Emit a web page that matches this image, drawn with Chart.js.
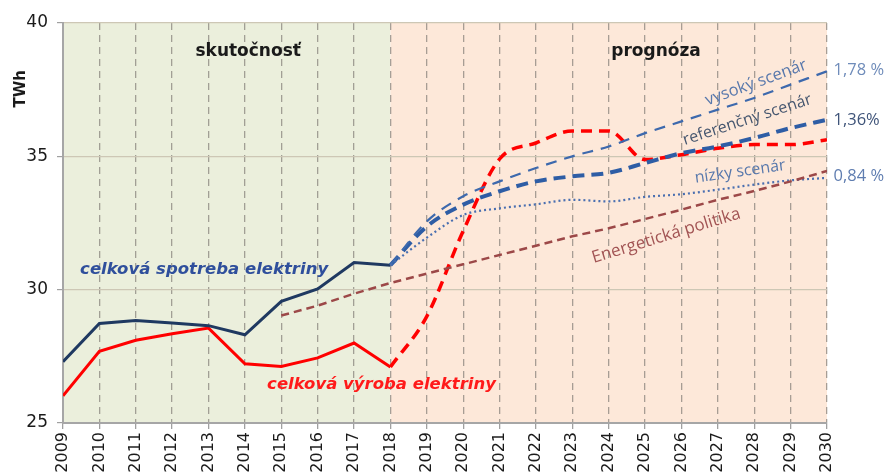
<!DOCTYPE html>
<html>
<head>
<meta charset="utf-8">
<script src="https://cdn.jsdelivr.net/npm/chart.js@4.4.1/dist/chart.umd.min.js"></script>
<style>
html,body{margin:0;padding:0;background:#fff;}
#wrap{width:886px;height:475px;position:relative;}
</style>
</head>
<body>
<div id="wrap"><canvas id="c" width="886" height="475"></canvas></div>
<script>
// ---- data ----
const years = [2009,2010,2011,2012,2013,2014,2015,2016,2017,2018,2019,2020,2021,2022,2023,2024,2025,2026,2027,2028,2029,2030];
const actualYears = [2009,2010,2011,2012,2013,2014,2015,2016,2017,2018];
const forecastYears = [2018,2019,2020,2021,2022,2023,2024,2025,2026,2027,2028,2029,2030];
const policyYears = [2015,2016,2017,2018,2019,2020,2021,2022,2023,2024,2025,2026,2027,2028,2029,2030];

const consumption = [27.30, 28.73, 28.84, 28.75, 28.65, 28.31, 29.56, 30.03, 31.02, 30.92];
const production  = [26.02, 27.69, 28.10, 28.35, 28.56, 27.22, 27.12, 27.44, 28.00, 27.10];
const productionForecast = [27.10, 29.00, 32.20, 34.90, 35.50, 35.95, 35.95, 34.88, 35.06, 35.30, 35.44, 35.44, 35.62];
const highScenario = [30.92, 32.56, 33.50, 34.06, 34.56, 35.00, 35.37, 35.87, 36.31, 36.75, 37.19, 37.69, 38.19];
const refScenario  = [30.92, 32.37, 33.19, 33.69, 34.06, 34.25, 34.38, 34.75, 35.12, 35.37, 35.69, 36.06, 36.37];
const lowScenario  = [30.92, 31.95, 32.80, 33.05, 33.20, 33.37, 33.31, 33.48, 33.58, 33.75, 33.94, 34.10, 34.19];
const energyPolicy = [29.03, 29.40, 29.85, 30.25, 30.60, 30.95, 31.30, 31.65, 32.00, 32.30, 32.65, 33.00, 33.37, 33.70, 34.06, 34.45];

const yTicks = [25, 30, 35, 40];
const actualEnd = 2018;

const pts = (xs, ys) => xs.map((x, i) => ({x: x, y: ys[i]}));

// ---- annotations (data coordinates) ----
const texts = [
  {t:'skutočnosť', x:2014.09, y:38.92, font:'bold 17px "DejaVu Sans"', color:'#1a1a1a', align:'center', rot:0},
  {t:'prognóza', x:2025.30, y:38.92, font:'bold 17px "DejaVu Sans"', color:'#1a1a1a', align:'center', rot:0},
  {t:'celková spotreba elektriny', x:2009.47, y:30.75, font:'italic bold 16.5px "DejaVu Sans"', color:'#2f4f9c', align:'left', rot:0},
  {t:'celková výroba elektriny', x:2014.61, y:26.44, font:'italic bold 16.5px "DejaVu Sans"', color:'#ff1a1a', align:'left', rot:0},
  {t:'vysoký scenár', x:2028.05, y:37.76, font:'16.5px "Open Sans"', color:'#5878ac', align:'center', rot:-20},
  {t:'referenčný scenár', x:2027.81, y:36.37, font:'16px "Open Sans"', color:'#45566f', align:'center', rot:-18},
  {t:'nízky scenár', x:2027.61, y:34.42, font:'16px "Open Sans"', color:'#5878ac', align:'center', rot:-8},
  {t:'Energetická politika', x:2025.58, y:32.02, font:'17px "Open Sans"', color:'#a25454', align:'center', rot:-17},
  {t:'1,78 %', x:2030.18, y:38.21, font:'16.5px "Open Sans"', color:'#6f8cba', align:'left', rot:0},
  {t:'1,36%', x:2030.18, y:36.37, font:'16.5px "Open Sans"', color:'#3f5479', align:'left', rot:0},
  {t:'0,84 %', x:2030.18, y:34.24, font:'16.5px "Open Sans"', color:'#5f7db0', align:'left', rot:0},
  {t:'TWh', x:2007.85, y:37.53, font:'bold 15px "DejaVu Sans"', color:'#1a1a1a', align:'center', rot:-90}
];

const bgPlugin = {
  id: 'bg',
  beforeDraw(chart) {
    const {ctx, chartArea, scales} = chart;
    const xs = scales.x;
    const x0 = xs.getPixelForValue(years[0]);
    const x1 = xs.getPixelForValue(actualEnd);
    const x2 = xs.getPixelForValue(years[years.length-1]);
    ctx.save();
    ctx.fillStyle = '#ffffff';
    ctx.fillRect(0, 0, chart.width, chart.height);
    ctx.fillStyle = '#ebefdc';
    ctx.fillRect(x0, chartArea.top, x1 - x0, chartArea.bottom - chartArea.top);
    ctx.fillStyle = '#fde8d9';
    ctx.fillRect(x1, chartArea.top, x2 - x1, chartArea.bottom - chartArea.top);
    ctx.restore();
  }
};

const textPlugin = {
  id: 'texts',
  afterDatasetsDraw(chart) {
    const {ctx, scales} = chart;
    ctx.save();
    texts.forEach(a => {
      const px = scales.x.getPixelForValue(a.x);
      const py = scales.y.getPixelForValue(a.y);
      ctx.save();
      ctx.translate(px, py);
      ctx.rotate(a.rot * Math.PI / 180);
      ctx.font = a.font;
      ctx.fillStyle = a.color;
      ctx.textAlign = a.align;
      ctx.textBaseline = 'middle';
      ctx.fillText(a.t, 0, 0);
      ctx.restore();
    });
    ctx.restore();
  }
};

const ds = (label, data, color, width, dash, extra) => Object.assign({
  label, data, borderColor: color, backgroundColor: color, borderWidth: width,
  borderDash: dash, pointRadius: 0, pointHoverRadius: 0, fill: false, tension: 0
}, extra || {});

new Chart(document.getElementById('c'), {
  type: 'line',
  data: {
    datasets: [
      ds('Energetická politika', pts(policyYears, energyPolicy), '#9c4848', 2.5, [8,5]),
      ds('nízky scenár', pts(forecastYears, lowScenario), '#4a6fb0', 2.2, [2,3], {cubicInterpolationMode:'monotone'}),
      ds('vysoký scenár', pts(forecastYears, highScenario), '#3d69ad', 2.2, [11,8], {cubicInterpolationMode:'monotone'}),
      ds('referenčný scenár', pts(forecastYears, refScenario), '#2e5da5', 4, [12,7], {cubicInterpolationMode:'monotone'}),
      ds('výroba prognóza', pts(forecastYears, productionForecast), '#ff0000', 3.5, [11,7], {cubicInterpolationMode:'monotone'}),
      ds('celková spotreba elektriny', pts(actualYears, consumption), '#1f3961', 3, []),
      ds('celková výroba elektriny', pts(actualYears, production), '#ff0000', 3, [])
    ]
  },
  options: {
    responsive: false,
    animation: false,
    events: [],
    layout: {padding: {left: 0, top: 23, right: 59, bottom: 0}},
    plugins: {legend: {display: false}, tooltip: {enabled: false}, title: {display: false}},
    scales: {
      x: {
        type: 'linear',
        min: years[0], max: years[years.length-1],
        afterFit(s) { s.height = 52; },
        afterBuildTicks(s) { s.ticks = years.map(v => ({value: v})); },
        ticks: {
          autoSkip: false, minRotation: 90, maxRotation: 90, padding: 3,
          color: '#1a1a1a', font: {family: '"DejaVu Sans"', size: 16},
          callback: v => String(v)
        },
        grid: {color: 'rgba(130,125,118,0.7)', lineWidth: 1.3, tickLength: 6, tickColor: '#a0a0a0', tickBorderDash: []},
        border: {display: true, color: '#a6a6a6', width: 2, dash: [7,5]}
      },
      y: {
        min: 25, max: 40,
        afterFit(s) { s.width = 63; },
        afterBuildTicks(s) { s.ticks = yTicks.map(v => ({value: v})); },
        ticks: {padding: 9, color: '#1a1a1a', font: {family: '"DejaVu Sans"', size: 17}},
        grid: {color: '#cdc7b5', lineWidth: 1.2, tickLength: 6, tickColor: '#a0a0a0'},
        border: {display: true, color: '#a6a6a6', width: 2}
      }
    }
  },
  plugins: [bgPlugin, textPlugin]
});
</script>
</body>
</html>
